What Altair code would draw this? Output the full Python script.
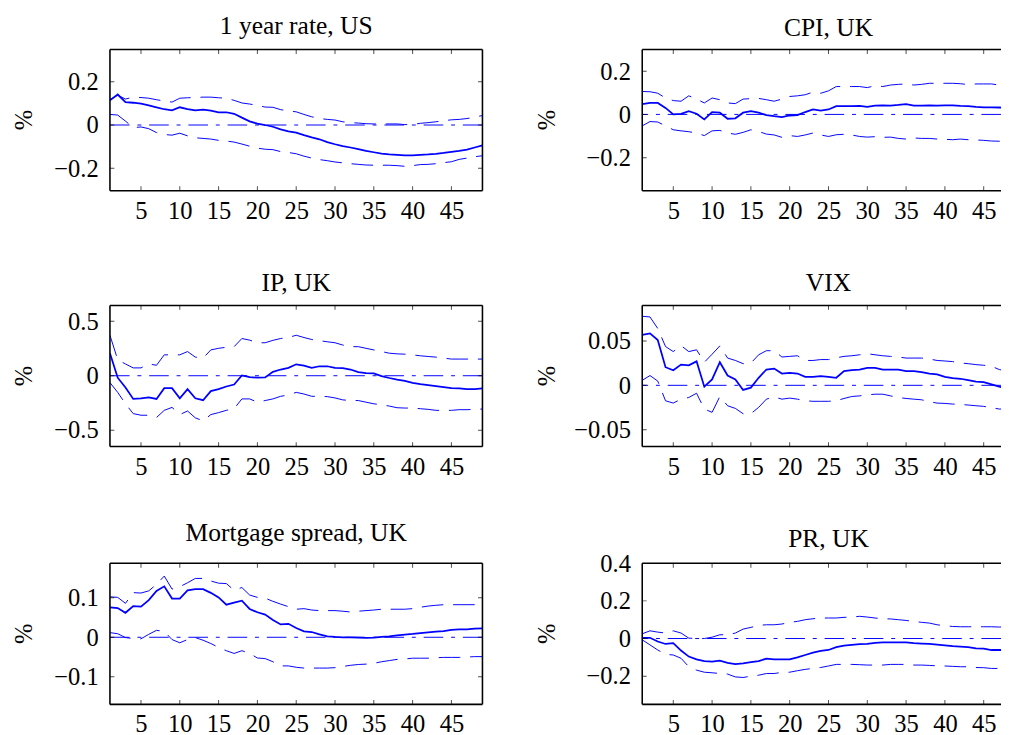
import altair as alt
import pandas as pd

T = list(range(1, 50))
XTICKS = [5, 10, 15, 20, 25, 30, 35, 40, 45]

titles = ["1 year rate, US", "CPI, UK", "IP, UK", "VIX", "Mortgage spread, UK", "PR, UK"]

us_irf = [0.114, 0.141, 0.106, 0.103, 0.099, 0.091, 0.082, 0.073, 0.068, 0.082,
          0.074, 0.068, 0.071, 0.067, 0.059, 0.059, 0.052, 0.034, 0.017, 0.006,
          0.000, -0.008, -0.020, -0.029, -0.035, -0.047, -0.057, -0.066, -0.079, -0.089,
          -0.098, -0.104, -0.112, -0.120, -0.126, -0.132, -0.136, -0.138, -0.141, -0.141,
          -0.138, -0.136, -0.133, -0.129, -0.124, -0.120, -0.114, -0.104, -0.094]
us_hi = [0.118, 0.138, 0.120, 0.129, 0.127, 0.124, 0.117, 0.111, 0.106, 0.124,
         0.126, 0.127, 0.129, 0.129, 0.126, 0.124, 0.114, 0.102, 0.097, 0.091,
         0.083, 0.082, 0.071, 0.065, 0.061, 0.049, 0.038, 0.030, 0.026, 0.023,
         0.015, 0.011, 0.009, 0.006, 0.005, 0.005, 0.005, 0.005, 0.002, 0.002,
         0.008, 0.011, 0.015, 0.020, 0.024, 0.026, 0.030, 0.036, 0.044]
us_lo = [0.049, 0.046, 0.018, -0.012, -0.009, -0.017, -0.035, -0.044, -0.047, -0.038,
         -0.050, -0.059, -0.062, -0.065, -0.071, -0.074, -0.079, -0.088, -0.098, -0.107,
         -0.112, -0.114, -0.123, -0.127, -0.133, -0.144, -0.153, -0.160, -0.165, -0.171,
         -0.175, -0.179, -0.182, -0.185, -0.186, -0.186, -0.186, -0.188, -0.191, -0.188,
         -0.183, -0.182, -0.179, -0.174, -0.170, -0.159, -0.153, -0.147, -0.142]

cpi_irf = [0.048, 0.053, 0.053, 0.030, 0.000, 0.003, 0.015, 0.003, -0.023, 0.011,
           0.008, -0.020, -0.018, 0.008, 0.015, 0.008, -0.003, -0.008, -0.012, -0.005,
           -0.003, 0.011, 0.023, 0.018, 0.023, 0.038, 0.038, 0.038, 0.039, 0.035,
           0.041, 0.042, 0.041, 0.044, 0.048, 0.041, 0.041, 0.042, 0.041, 0.042,
           0.042, 0.039, 0.038, 0.035, 0.033, 0.033, 0.032, 0.029, 0.027]
cpi_hi = [0.106, 0.105, 0.098, 0.076, 0.064, 0.061, 0.086, 0.071, 0.053, 0.076,
          0.068, 0.053, 0.050, 0.071, 0.073, 0.074, 0.068, 0.061, 0.071, 0.083,
          0.086, 0.091, 0.103, 0.098, 0.109, 0.129, 0.129, 0.129, 0.129, 0.124,
          0.133, 0.129, 0.136, 0.139, 0.141, 0.136, 0.139, 0.144, 0.144, 0.144,
          0.144, 0.142, 0.138, 0.141, 0.141, 0.141, 0.136, 0.136, 0.136]
cpi_lo = [-0.053, -0.033, -0.035, -0.053, -0.071, -0.076, -0.080, -0.086, -0.098, -0.076,
          -0.074, -0.086, -0.092, -0.083, -0.071, -0.079, -0.091, -0.095, -0.106, -0.098,
          -0.102, -0.095, -0.086, -0.095, -0.102, -0.094, -0.092, -0.095, -0.102, -0.105,
          -0.103, -0.106, -0.105, -0.111, -0.114, -0.109, -0.111, -0.111, -0.114, -0.115,
          -0.117, -0.114, -0.117, -0.118, -0.120, -0.123, -0.124, -0.123, -0.123]

ip_irf = [0.207, -0.018, -0.108, -0.213, -0.207, -0.198, -0.213, -0.114, -0.114, -0.207,
          -0.123, -0.207, -0.225, -0.141, -0.123, -0.099, -0.081, 0.003, -0.012, -0.018,
          -0.015, 0.036, 0.057, 0.072, 0.105, 0.093, 0.072, 0.087, 0.087, 0.072,
          0.069, 0.057, 0.033, 0.024, 0.021, -0.003, -0.021, -0.036, -0.048, -0.066,
          -0.078, -0.087, -0.096, -0.105, -0.114, -0.117, -0.123, -0.123, -0.117]
ip_hi = [0.372, 0.147, 0.108, 0.072, 0.072, 0.108, 0.096, 0.192, 0.192, 0.192,
         0.222, 0.171, 0.162, 0.237, 0.252, 0.262, 0.267, 0.342, 0.327, 0.303,
         0.303, 0.325, 0.342, 0.351, 0.372, 0.351, 0.333, 0.322, 0.312, 0.303,
         0.282, 0.267, 0.267, 0.252, 0.237, 0.222, 0.207, 0.201, 0.198, 0.192,
         0.183, 0.177, 0.171, 0.162, 0.153, 0.153, 0.153, 0.153, 0.153]
ip_lo = [-0.063, -0.153, -0.258, -0.348, -0.363, -0.363, -0.384, -0.318, -0.291, -0.357,
         -0.324, -0.387, -0.414, -0.357, -0.339, -0.318, -0.303, -0.213, -0.213, -0.243,
         -0.228, -0.213, -0.189, -0.177, -0.153, -0.168, -0.189, -0.189, -0.192, -0.204,
         -0.222, -0.228, -0.228, -0.243, -0.258, -0.267, -0.279, -0.294, -0.297, -0.297,
         -0.303, -0.309, -0.318, -0.318, -0.318, -0.312, -0.312, -0.309, -0.306]

vix_irf = [0.0567, 0.0585, 0.051, 0.0204, 0.017, 0.0233, 0.0226, 0.027, -0.0015, 0.0067,
           0.026, 0.011, 0.0067, -0.0052, -0.0026, 0.0085, 0.0178, 0.0189, 0.0133, 0.014,
           0.0133, 0.0096, 0.0096, 0.0104, 0.0096, 0.0085, 0.016, 0.017, 0.0178, 0.0196,
           0.0196, 0.0178, 0.0178, 0.0178, 0.016, 0.016, 0.0148, 0.0133, 0.0122, 0.0096,
           0.0081, 0.0074, 0.0059, 0.0041, 0.0037, 0.0011, -0.0015, -0.0037, -0.0063]
vix_hi = [0.0778, 0.077, 0.064, 0.0437, 0.038, 0.0448, 0.038, 0.040, 0.026, 0.035,
          0.0444, 0.0307, 0.028, 0.0244, 0.025, 0.0344, 0.039, 0.039, 0.0319, 0.0326,
          0.0333, 0.028, 0.028, 0.029, 0.029, 0.031, 0.0326, 0.0333, 0.0344, 0.0356,
          0.0344, 0.0333, 0.0326, 0.0319, 0.0307, 0.0307, 0.0307, 0.0296, 0.028, 0.0274,
          0.0267, 0.0252, 0.0244, 0.0233, 0.0226, 0.0215, 0.0178, 0.016, 0.017]
vix_lo = [0.0056, 0.011, 0.0048, -0.0174, -0.020, -0.0156, -0.0137, -0.0089, -0.0267, -0.0304,
          -0.0126, -0.023, -0.026, -0.032, -0.032, -0.0248, -0.0156, -0.013, -0.0156, -0.0144,
          -0.0156, -0.0174, -0.018, -0.018, -0.018, -0.0174, -0.0148, -0.0126, -0.0119, -0.0107,
          -0.010, -0.010, -0.0119, -0.0137, -0.0148, -0.0156, -0.0163, -0.0185, -0.020, -0.0204,
          -0.0211, -0.0215, -0.0222, -0.023, -0.0237, -0.0252, -0.0267, -0.0267, -0.0267]

mort_irf = [0.0758, 0.074, 0.062, 0.079, 0.0775, 0.094, 0.1175, 0.129, 0.098, 0.098,
            0.119, 0.122, 0.122, 0.1125, 0.101, 0.0825, 0.0875, 0.0925, 0.0717, 0.0633,
            0.0575, 0.044, 0.0325, 0.034, 0.0233, 0.015, 0.0133, 0.0075, 0.0025, 0.0008,
            0.0, 0.0, -0.0008, -0.0017, -0.0008, 0.0008, 0.0025, 0.005, 0.0067, 0.0083,
            0.0108, 0.0125, 0.014, 0.0158, 0.019, 0.02, 0.02, 0.0217, 0.0225]
mort_hi = [0.1025, 0.101, 0.086, 0.113, 0.112, 0.1175, 0.134, 0.155, 0.122, 0.128,
           0.138, 0.149, 0.149, 0.1425, 0.137, 0.136, 0.119, 0.126, 0.107, 0.101,
           0.099, 0.091, 0.084, 0.0775, 0.071, 0.0725, 0.069, 0.0675, 0.0675, 0.0675,
           0.066, 0.064, 0.066, 0.0675, 0.069, 0.071, 0.071, 0.071, 0.071, 0.0725,
           0.076, 0.079, 0.081, 0.0825, 0.0825, 0.0825, 0.0825, 0.0825, 0.0825]
mort_lo = [0.0117, 0.009, -0.0008, -0.0033, -0.004, 0.0075, 0.0175, 0.015, -0.0058, -0.014,
           -0.0058, -0.0008, -0.0075, -0.0158, -0.0258, -0.034, -0.041, -0.034, -0.041, -0.0525,
           -0.054, -0.062, -0.0725, -0.0725, -0.076, -0.078, -0.078, -0.078, -0.078, -0.077,
           -0.074, -0.071, -0.069, -0.068, -0.066, -0.062, -0.059, -0.056, -0.055, -0.053,
           -0.053, -0.053, -0.052, -0.051, -0.051, -0.051, -0.050, -0.049, -0.049]

pr_irf = [0.004, 0.004, -0.016, -0.029, -0.025, -0.064, -0.096, -0.111, -0.120, -0.123,
          -0.118, -0.129, -0.136, -0.132, -0.125, -0.120, -0.107, -0.111, -0.111, -0.111,
          -0.100, -0.0875, -0.075, -0.066, -0.061, -0.046, -0.0375, -0.034, -0.030, -0.029,
          -0.023, -0.021, -0.021, -0.021, -0.021, -0.025, -0.027, -0.029, -0.032, -0.036,
          -0.041, -0.043, -0.046, -0.052, -0.054, -0.061, -0.061, -0.061, -0.061]
pr_hi = [0.025, 0.041, 0.034, 0.029, 0.041, 0.029, 0.002, 0.0, 0.0, 0.007,
         0.020, 0.020, 0.029, 0.050, 0.059, 0.070, 0.073, 0.073, 0.077, 0.086,
         0.091, 0.100, 0.105, 0.109, 0.109, 0.109, 0.1125, 0.114, 0.118, 0.114,
         0.109, 0.105, 0.104, 0.100, 0.096, 0.091, 0.086, 0.082, 0.073, 0.068,
         0.064, 0.0625, 0.0625, 0.0625, 0.0625, 0.0625, 0.061, 0.061, 0.061]
pr_lo = [-0.007, -0.034, -0.061, -0.084, -0.0875, -0.105, -0.150, -0.168, -0.179, -0.182,
         -0.186, -0.189, -0.204, -0.207, -0.200, -0.195, -0.186, -0.186, -0.180, -0.179,
         -0.171, -0.164, -0.159, -0.154, -0.146, -0.1375, -0.1375, -0.1375, -0.139, -0.141,
         -0.141, -0.141, -0.1375, -0.1375, -0.1375, -0.141, -0.141, -0.143, -0.145, -0.146,
         -0.148, -0.150, -0.150, -0.154, -0.155, -0.159, -0.159, -0.159, -0.159]

irfs = [us_irf, cpi_irf, ip_irf, vix_irf, mort_irf, pr_irf]
his = [us_hi, cpi_hi, ip_hi, vix_hi, mort_hi, pr_hi]
los = [us_lo, cpi_lo, ip_lo, vix_lo, mort_lo, pr_lo]
ydomains = [[-0.304, 0.349], [-0.353, 0.3], [-0.651, 0.646],
            [-0.069, 0.09], [-0.17, 0.1875], [-0.35, 0.4]]
yticks = [[-0.2, 0, 0.2], [-0.2, 0, 0.2], [-0.5, 0, 0.5],
          [-0.05, 0, 0.05], [-0.1, 0, 0.1], [-0.2, 0, 0.2, 0.4]]
title_offsets = [16, 14, 15, 15, 23, 17]

BLUE = "#0000FF"
FONT = "Liberation Serif"
FS = 25          # tick labels and "%"
TFS = 26         # panel titles
H = 144
PX_PER_STEP = 380 / 48          # horizontal pixels per period
W_LEFT = 380                    # full panel, periods 1..49
W_RIGHT = 366                   # right panels run off the page edge
ONE = pd.DataFrame({"k": [0]})


def panel(i):
    left = (i % 2 == 0)
    W = W_LEFT if left else W_RIGHT
    xmax = 1 + W / PX_PER_STEP
    df = pd.DataFrame({"t": T, "irf": irfs[i], "hi": his[i], "lo": los[i]})
    xs = alt.Scale(domain=[1, xmax], nice=False, zero=False)
    ys = alt.Scale(domain=ydomains[i], nice=False, zero=False)
    xaxis = alt.Axis(values=XTICKS, title=None, ticks=False, tickSize=0, domain=False,
                     grid=False, labelFont=FONT, labelFontSize=FS, labelColor="black",
                     labelPadding=8, labelFlush=False)
    yaxis = alt.Axis(values=yticks[i], title=None, format="~g", ticks=False, tickSize=0,
                     domain=False, grid=False, labelFont=FONT, labelFontSize=FS,
                     labelColor="black", labelPadding=12, labelFlush=False)
    X = lambda f: alt.X(f, scale=xs, axis=xaxis)
    Y = lambda f: alt.Y(f, scale=ys, axis=yaxis)
    base = alt.Chart(df)
    solid = base.mark_line(color=BLUE, strokeWidth=1.8, clip=True).encode(
        x=X("t:Q"), y=Y("irf:Q"))
    upper = base.mark_line(color=BLUE, strokeWidth=1.0, strokeDash=[22, 10], clip=True).encode(
        x=X("t:Q"), y=Y("hi:Q"))
    lower = base.mark_line(color=BLUE, strokeWidth=1.0, strokeDash=[22, 10], clip=True).encode(
        x=X("t:Q"), y=Y("lo:Q"))
    zero = alt.Chart(pd.DataFrame({"z": [0]})).mark_rule(
        color=BLUE, strokeWidth=1.0, strokeDash=[20, 8, 4, 8]).encode(y=Y("z:Q"))
    xt = alt.Chart(pd.DataFrame({"t": XTICKS}))
    xt_bot = xt.mark_tick(color="black", size=9, thickness=1, clip=True).encode(
        x=X("t:Q"), y=alt.value(H))
    xt_top = xt.mark_tick(color="black", size=9, thickness=1, clip=True).encode(
        x=X("t:Q"), y=alt.value(0))
    yt = alt.Chart(pd.DataFrame({"v": yticks[i]}))
    yt_l = yt.mark_tick(color="black", size=9, thickness=1, clip=True, orient="horizontal").encode(
        y=Y("v:Q"), x=alt.value(0))
    layers = [zero, lower, upper, solid, xt_bot, xt_top, yt_l]
    fr = alt.Chart(ONE).mark_rule(color="black", strokeWidth=1.6)
    layers += [
        fr.encode(x=alt.value(0), x2=alt.value(W), y=alt.value(0)),
        fr.encode(x=alt.value(0), x2=alt.value(W), y=alt.value(H)),
        fr.encode(x=alt.value(0), y=alt.value(0), y2=alt.value(H)),
    ]
    if left:
        yt_r = yt.mark_tick(color="black", size=9, thickness=1, clip=True,
                            orient="horizontal").encode(y=Y("v:Q"), x=alt.value(W))
        layers += [yt_r, fr.encode(x=alt.value(W), y=alt.value(0), y2=alt.value(H))]
    ttl = alt.Chart(ONE).mark_text(font=FONT, fontSize=TFS, color="black", align="center",
                                   baseline="alphabetic").encode(
        x=alt.value(W_LEFT / 2), y=alt.value(-title_offsets[i]), text=alt.value(titles[i]))
    ylab = alt.Chart(ONE).mark_text(font=FONT, fontSize=FS, color="black", align="center",
                                    baseline="middle", angle=270).encode(
        x=alt.value(-88 if left else -97), y=alt.value(H / 2), text=alt.value("%"))
    layers += [ttl, ylab]
    return alt.layer(*layers).properties(width=W, height=H)


rows = [alt.hconcat(panel(2 * r), panel(2 * r + 1), spacing=53) for r in range(3)]
lower_rows = alt.vconcat(rows[1], rows[2], spacing=42)
chart = alt.vconcat(rows[0], lower_rows, spacing=48).properties(
    padding={"left": 4, "top": -2, "right": 0, "bottom": 0}
).configure_view(strokeWidth=0).configure_axis(
    labelFont=FONT, labelFontSize=FS, labelColor="black")

chart.save("out.html", embed_options={"renderer": "svg", "actions": False})
